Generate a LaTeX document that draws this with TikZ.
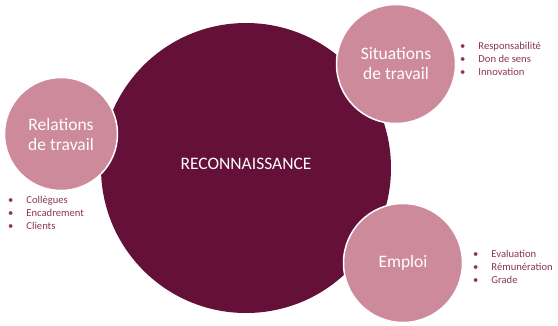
\documentclass[tikz,border=0pt]{standalone}
\usepackage{fontspec}
\setmainfont{Carlito}
\definecolor{wine}{RGB}{101,16,57}
\definecolor{rose}{RGB}{204,138,154}
\definecolor{plum}{RGB}{140,50,90}
\newcommand{\itemlist}[3]{\begin{tabular}[t]{@{}l@{\hspace{13pt}}l@{}}\textbullet & #1\\ \textbullet & #2\\ \textbullet & #3\end{tabular}}
\begin{document}
\begin{tikzpicture}[x=1pt,y=-1pt,
  bubble/.style={circle,fill=rose,draw=white,line width=1.5pt,text=white,
    font=\fontsize{17.5}{20}\selectfont,align=center,inner sep=0pt},
  items/.style={text=plum,font=\fontsize{10.6}{13}\selectfont,anchor=base west,inner sep=0pt}]
\useasboundingbox (0,0) rectangle (558,325);
\node[circle,fill=wine,minimum size=290pt,inner sep=0pt] (reco) at (246,168) {};
\node[text=white,font=\fontsize{17.5}{20}\selectfont] (recotext) at (246,164) {RECONNAISSANCE};
\node[bubble,minimum size=113pt] (relations) at (61,134) {Relations\\de travail};
\node[bubble,minimum size=119pt] (situations) at (396,64) {Situations\\de travail};
\node[bubble,minimum size=119pt] (emploi) at (403,263) {Emploi};
\node[items] (relitems) at (8,203.5) {\itemlist{Collègues}{Encadrement}{Clients}};
\node[items] (sititems) at (460,49.5) {\itemlist{Responsabilité}{Don de sens}{Innovation}};
\node[items] (empitems) at (473,257.5) {\itemlist{Evaluation}{Rémunération}{Grade}};
\end{tikzpicture}
\end{document}
